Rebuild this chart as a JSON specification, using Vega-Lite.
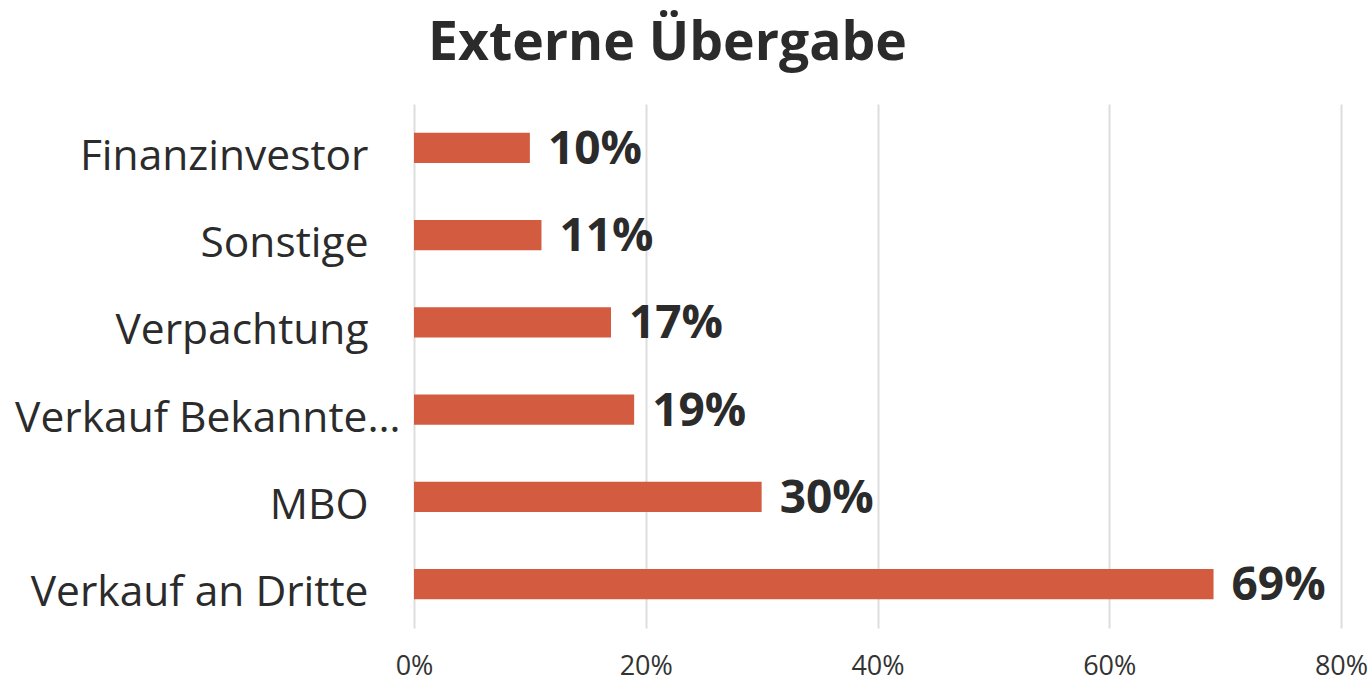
{
  "$schema": "https://vega.github.io/schema/vega-lite/v6.json",
  "width": 927,
  "height": 524,
  "autosize": {"type": "none"},
  "padding": {"left": 414, "top": 104, "right": 31, "bottom": 55},
  "background": "#ffffff",
  "config": {"view": {"stroke": null}, "font": "Open Sans"},
  "title": {
    "text": "Externe Übergabe",
    "font": "Open Sans",
    "fontSize": 53.5,
    "fontWeight": "bold",
    "color": "#2b2b2b",
    "anchor": "middle",
    "dx": -210,
    "baseline": "alphabetic",
    "offset": -9
  },
  "data": {
    "values": [
      {"kategorie": "Finanzinvestor", "anteil": 0.10},
      {"kategorie": "Sonstige", "anteil": 0.11},
      {"kategorie": "Verpachtung", "anteil": 0.17},
      {"kategorie": "Verkauf Bekannte…", "anteil": 0.19},
      {"kategorie": "MBO", "anteil": 0.30},
      {"kategorie": "Verkauf an Dritte", "anteil": 0.69}
    ]
  },
  "encoding": {
    "y": {
      "field": "kategorie",
      "type": "nominal",
      "sort": null,
      "scale": {"paddingInner": 0.655, "paddingOuter": 0.33},
      "axis": {
        "title": null,
        "domain": false,
        "ticks": false,
        "grid": false,
        "labelFont": "Open Sans",
        "labelFontSize": 42.5,
        "labelColor": "#2b2b2b",
        "labelPadding": {
          "condition": {"test": "datum.value === 'Verkauf Bekannte…'", "value": 14},
          "value": 46
        },
        "labelLimit": 500,
        "labelOffset": 9
      }
    },
    "x": {
      "field": "anteil",
      "type": "quantitative",
      "scale": {"domain": [0, 0.8]},
      "axis": {
        "title": null,
        "format": ".0%",
        "values": [0, 0.2, 0.4, 0.6, 0.8],
        "domain": false,
        "ticks": false,
        "grid": true,
        "gridColor": "#dddddd",
        "gridWidth": 2,
        "labelFont": "Open Sans",
        "labelFontSize": 27,
        "labelColor": "#333333",
        "labelPadding": 46,
        "labelBaseline": "alphabetic",
        "labelFlush": false
      }
    }
  },
  "layer": [
    {"mark": {"type": "bar", "color": "#d35b3f"}},
    {
      "mark": {
        "type": "text",
        "align": "left",
        "baseline": "middle",
        "dx": 18,
        "dy": 2,
        "font": "Open Sans",
        "fontSize": 46,
        "fontWeight": "bold",
        "color": "#2b2b2b"
      },
      "encoding": {"text": {"field": "anteil", "type": "quantitative", "format": ".0%"}}
    }
  ]
}
